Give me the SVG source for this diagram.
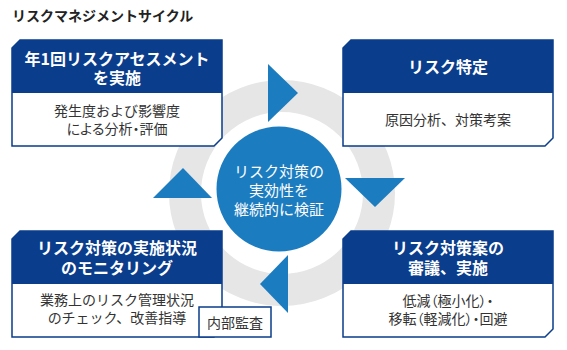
<svg xmlns="http://www.w3.org/2000/svg" width="567" height="350" viewBox="0 0 567 350">
<style>
text{font-family:"Noto Sans CJK JP","Noto Sans",sans-serif}
.title{font-size:14px;font-weight:bold;fill:#222}
.hd{font-size:16px;font-weight:bold;fill:#fff;text-anchor:middle}
.bd{font-size:14px;fill:#333;text-anchor:middle}
.palt{font-feature-settings:"palt"}
.ct{font-size:15px;fill:#fff;text-anchor:middle}
.head{fill:#0a3d8c}
.frame{fill:#fff;stroke:#0a3d8c;stroke-width:1.5}
.tri{fill:#1c7cc0}
</style>
<rect width="567" height="350" fill="#fff"/>
<text class="title" x="12" y="21">リスクマネジメントサイクル</text>
<circle cx="282" cy="193" r="97" fill="none" stroke="#e6e6e6" stroke-width="32"/>
<g id="connectors">
<polygon class="tri" points="268,64 298,93 268,122"/>
<polygon class="tri" points="345,178 405,178 375,207"/>
<polygon class="tri" points="288,255 288,313 260,284"/>
<polygon class="tri" points="153,198 212,198 183,168"/>
</g>
<g id="center">
<circle cx="279" cy="189" r="62.5" fill="#1c7cc0"/>
<text class="ct" x="279" y="177">リスク対策の</text>
<text class="ct" x="279" y="196">実効性を</text>
<text class="ct" x="279" y="215">継続的に検証</text>
</g>
<g id="assess">
<path class="frame" d="M12,48 L20,40 L222,40 L222,138 L214,146 L12,146 Z"/>
<path class="head" d="M12,48 L20,40 L222,40 L222,93 L12,93 Z"/>
<text class="hd" x="117" y="65">年1回リスクアセスメント</text>
<text class="hd" x="117" y="84">を実施</text>
<text class="bd" x="117" y="116">発生度および影響度</text>
<text class="bd palt" x="117" y="134">による分析・評価</text>
</g>
<g id="identify">
<path class="frame" d="M343,48 L351,40 L553,40 L553,138 L545,146 L343,146 Z"/>
<path class="head" d="M343,48 L351,40 L553,40 L553,93 L343,93 Z"/>
<text class="hd" x="448" y="73">リスク特定</text>
<text class="bd" x="448" y="125">原因分析、対策考案</text>
</g>
<g id="treat">
<path class="frame" d="M343,239 L351,231 L553,231 L553,329 L545,337 L343,337 Z"/>
<path class="head" d="M343,239 L351,231 L553,231 L553,284 L343,284 Z"/>
<text class="hd" x="448" y="254">リスク対策案の</text>
<text class="hd" x="448" y="274">審議、実施</text>
<text class="bd palt" x="448" y="306">低減（極小化）・</text>
<text class="bd palt" x="448" y="324">移転（軽減化）・回避</text>
</g>
<g id="monitor">
<path class="frame" d="M12,239 L20,231 L222,231 L222,329 L214,337 L12,337 Z"/>
<path class="head" d="M12,239 L20,231 L222,231 L222,284 L12,284 Z"/>
<text class="hd" x="117" y="254">リスク対策の実施状況</text>
<text class="hd" x="117" y="274">のモニタリング</text>
<text class="bd" x="117" y="305">業務上のリスク管理状況</text>
<text class="bd" x="117" y="323">のチェック、改善指導</text>
</g>
<g id="audit">
<rect class="frame" x="199" y="307" width="72" height="30"/>
<text class="bd" x="235" y="328">内部監査</text>
</g>
</svg>
